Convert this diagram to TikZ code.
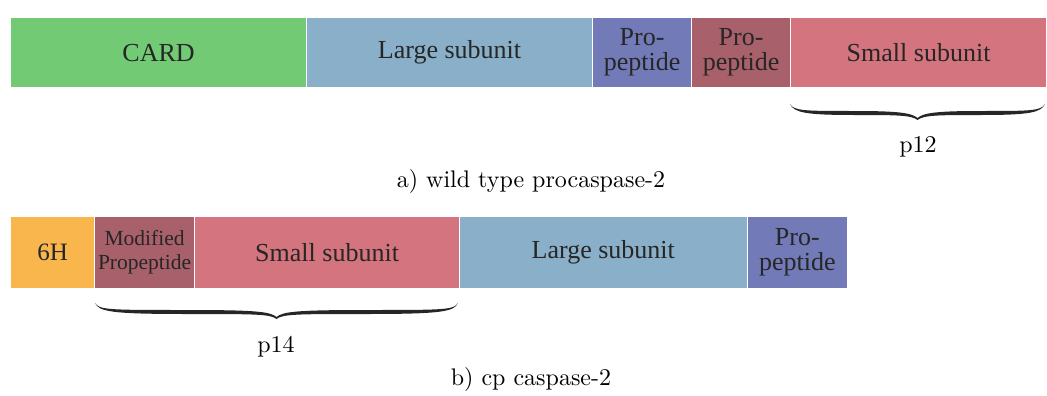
\documentclass[tikz,border=0pt]{standalone}
\usepackage{fontspec}
\usepackage{graphicx}
\newfontfamily\boxfont{Liberation Serif}

\definecolor{cardgreen}{RGB}{115,202,117}
\definecolor{largeblue}{RGB}{138,176,201}
\definecolor{propurple}{RGB}{114,122,184}
\definecolor{promauve}{RGB}{168,96,106}
\definecolor{smallred}{RGB}{212,116,126}
\definecolor{hisorange}{RGB}{248,182,77}

\tikzset{
  segbox/.style={draw=white,line width=1.2pt,inner sep=0pt,anchor=north west,
    text=black!85,align=center,font=\boxfont\fontsize{26}{25}\selectfont},
  pics/curly/.style={code={
    \pgfmathsetmacro\hw{#1/2}
    \fill[black!85] (0,0) .. controls (4,7) and (15,7) .. ({\hw/2},7)
      .. controls ({\hw-22},7) and ({\hw-6},8.5) .. (\hw,14)
      .. controls ({\hw+6},8.5) and ({\hw+22},7) .. ({1.5*\hw},7)
      .. controls ({#1-15},7) and ({#1-4},7) .. (#1,0)
      .. controls ({#1-4},8.5) and ({#1-15},11) .. ({1.5*\hw},11)
      .. controls ({\hw+22},11) and ({\hw+6},11) .. (\hw,16)
      .. controls ({\hw-6},11) and ({\hw-22},11) .. ({\hw/2},11)
      .. controls (15,11) and (4,8.5) .. (0,0) -- cycle;
  }},
  captext/.style={anchor=base}
}
\newcommand{\bigcm}[1]{\scalebox{2.4}{#1}}

\begin{document}
\begin{tikzpicture}[x=1pt,y=-1pt]
 \useasboundingbox (0,0) rectangle (1047,396);

 % wild type procaspase-2
 \node[segbox,fill=cardgreen,minimum width=296pt,minimum height=70pt] (card) at (10,17) {CARD};
 \node[segbox,fill=largeblue,minimum width=286pt,minimum height=70pt] (largea) at (306,17) {Large subunit};
 \node[segbox,fill=propurple,minimum width=99pt,minimum height=70pt] (proa) at (592,17) {Pro-\\peptide};
 \node[segbox,fill=promauve,minimum width=99pt,minimum height=70pt] (prob) at (691,17) {Pro-\\peptide};
 \node[segbox,fill=smallred,minimum width=256pt,minimum height=70pt] (smalla) at (790,17) {Small subunit};

 \pic at (790,104) {curly=255};
 \node[captext] (ptwelve) at (918,152) {\bigcm{p12}};
 \node[captext] (capa) at (531,187) {\bigcm{a) wild type procaspase-2}};

 % cp caspase-2
 \node[segbox,fill=hisorange,minimum width=84pt,minimum height=72pt,font=\boxfont\fontsize{25}{25}\selectfont] (sixh) at (10,216) {6H};
 \node[segbox,fill=promauve,minimum width=100pt,minimum height=72pt,font=\boxfont\fontsize{21.5}{24}\selectfont] (modpro) at (94,216) {Modified\\Propeptide};
 \node[segbox,fill=smallred,minimum width=265pt,minimum height=72pt] (smallb) at (194,216) {Small subunit};
 \node[segbox,fill=largeblue,minimum width=287.5pt,minimum height=72pt] (largeb) at (459,216) {Large subunit};
 \node[segbox,fill=propurple,minimum width=100.5pt,minimum height=72pt] (proc) at (746.5,216) {Pro-\\peptide};

 \pic at (95,303) {curly=363};
 \node[captext] (pfourteen) at (276,352) {\bigcm{p14}};
 \node[captext] (capb) at (531,385) {\bigcm{b) cp caspase-2}};
\end{tikzpicture}
\end{document}
